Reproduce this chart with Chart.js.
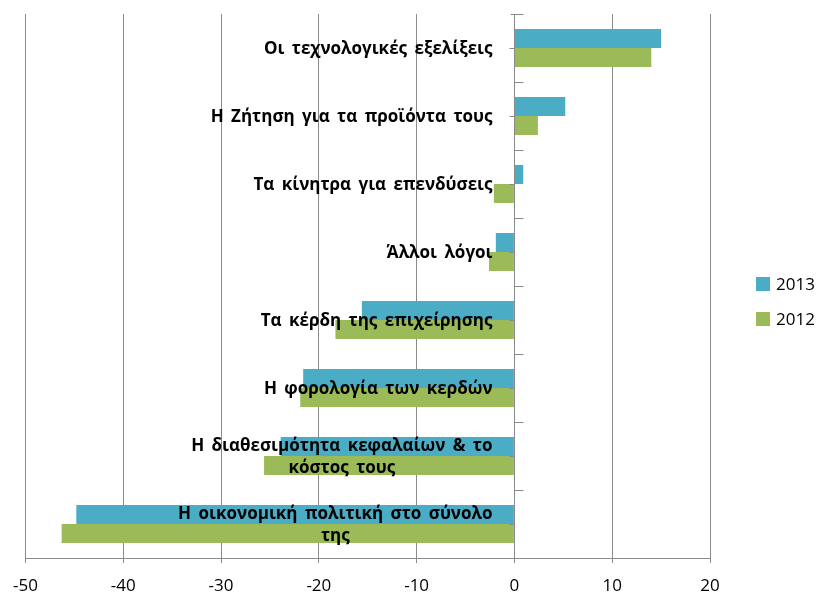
<!DOCTYPE html>
<html>
<head>
<meta charset="utf-8">
<script src="https://cdn.jsdelivr.net/npm/chart.js@4.4.1/dist/chart.umd.min.js"></script>
<style>
  html, body { margin: 0; padding: 0; background: #ffffff; }
  #wrap { width: 822px; height: 592px; }
</style>
</head>
<body>
<div id="wrap"><canvas id="c" width="822" height="592"></canvas></div>
<script>
const categories = [
  ["Οι τεχνολογικές εξελίξεις"],
  ["Η Ζήτηση για τα προϊόντα τους"],
  ["Τα κίνητρα για επενδύσεις"],
  ["Άλλοι λόγοι"],
  ["Τα κέρδη της επιχείρησης"],
  ["Η φορολογία των κερδών"],
  ["Η διαθεσιμότητα κεφαλαίων & το", "κόστος τους"],
  ["Η οικονομική πολιτική στο σύνολο", "της"]
];
const seriesNames = ["2013", "2012"];
const values2013 = [15.0, 5.2, 0.9, -1.9, -15.6, -21.6, -23.9, -44.8];
const values2012 = [14.0, 2.4, -2.1, -2.6, -18.3, -21.9, -25.6, -46.3];
const xTickMin = -50, xTickMax = 20, xTickStep = 10;

const GRID = '#8a8a8a';
const FAMILY = '"Open Sans", "Liberation Sans", sans-serif';
const LABEL_FONT = 'bold 17px ' + FAMILY;

const overlay = {
  id: 'overlay',
  afterDatasetsDraw(chart) {
    const ctx = chart.ctx;
    const xs = chart.scales.x, ys = chart.scales.y;
    const x0 = Math.round(xs.getPixelForValue(0)) + 0.5;
    const n = chart.data.labels.length;
    const band = (ys.bottom - ys.top) / n;
    ctx.save();
    ctx.strokeStyle = GRID;
    ctx.lineWidth = 1;
    ctx.beginPath();
    ctx.moveTo(x0, ys.top);
    ctx.lineTo(x0, ys.bottom);
    ctx.stroke();
    for (let i = 0; i <= n; i++) {
      const y = Math.round(ys.top + i * band) + 0.5;
      ctx.beginPath();
      ctx.moveTo(x0 - (i === 0 ? 4 : 0), y);
      ctx.lineTo(x0 + 9, y);
      ctx.stroke();
    }
    for (let i = 0; i < n; i++) {
      const y = Math.round(ys.getPixelForValue(i)) + 0.5;
      ctx.beginPath();
      ctx.moveTo(x0 - 5, y);
      ctx.lineTo(x0, y);
      ctx.stroke();
    }
    ctx.font = LABEL_FONT;
    if ('wordSpacing' in ctx) ctx.wordSpacing = '3px';
    ctx.fillStyle = '#000000';
    ctx.textBaseline = 'middle';
    ctx.textAlign = 'center';
    const rightEdge = x0 - 22;
    const lineH = 22;
    chart.data.labels.forEach((lab, i) => {
      const lines = Array.isArray(lab) ? lab : [lab];
      const w = Math.max(...lines.map(l => ctx.measureText(l).width));
      const cx = rightEdge - w / 2;
      const cy = ys.getPixelForValue(i);
      const startY = cy - (lines.length - 1) * lineH / 2;
      lines.forEach((l, k) => ctx.fillText(l, cx, startY + k * lineH + 1));
    });
    if ('wordSpacing' in ctx) ctx.wordSpacing = '0px';
    ctx.font = '17px ' + FAMILY;
    ctx.textAlign = 'left';
    chart.data.datasets.forEach((ds, i) => {
      const y = 284 + i * 35;
      ctx.fillStyle = ds.backgroundColor;
      ctx.fillRect(756, y - 7, 14, 14);
      ctx.fillStyle = '#000000';
      ctx.fillText(ds.label, 776, y + 1);
    });
    ctx.restore();
  }
};

new Chart(document.getElementById('c'), {
  type: 'bar',
  data: {
    labels: categories,
    datasets: [
      { label: seriesNames[0], data: values2013, backgroundColor: '#4bacc6', borderWidth: 0 },
      { label: seriesNames[1], data: values2012, backgroundColor: '#9bbb59', borderWidth: 0 }
    ]
  },
  options: {
    indexAxis: 'y',
    responsive: false,
    animation: false,
    devicePixelRatio: 1,
    layout: { padding: { left: 24, right: 112, top: 14, bottom: 0 } },
    plugins: { legend: { display: false }, tooltip: { enabled: false } },
    datasets: { bar: { categoryPercentage: 38 / 68, barPercentage: 1.0 } },
    scales: {
      x: {
        type: 'linear',
        min: xTickMin, max: xTickMax,
        afterFit(scale) { scale.height = 34; },
        ticks: { stepSize: xTickStep, color: '#000000', padding: 13,
                 font: { family: FAMILY, size: 17 } },
        grid: { color: GRID, lineWidth: 1, tickLength: 5 },
        border: { color: GRID, width: 1 }
      },
      y: {
        display: false,
        grid: { display: false }
      }
    }
  },
  plugins: [overlay]
});
</script>
</body>
</html>
